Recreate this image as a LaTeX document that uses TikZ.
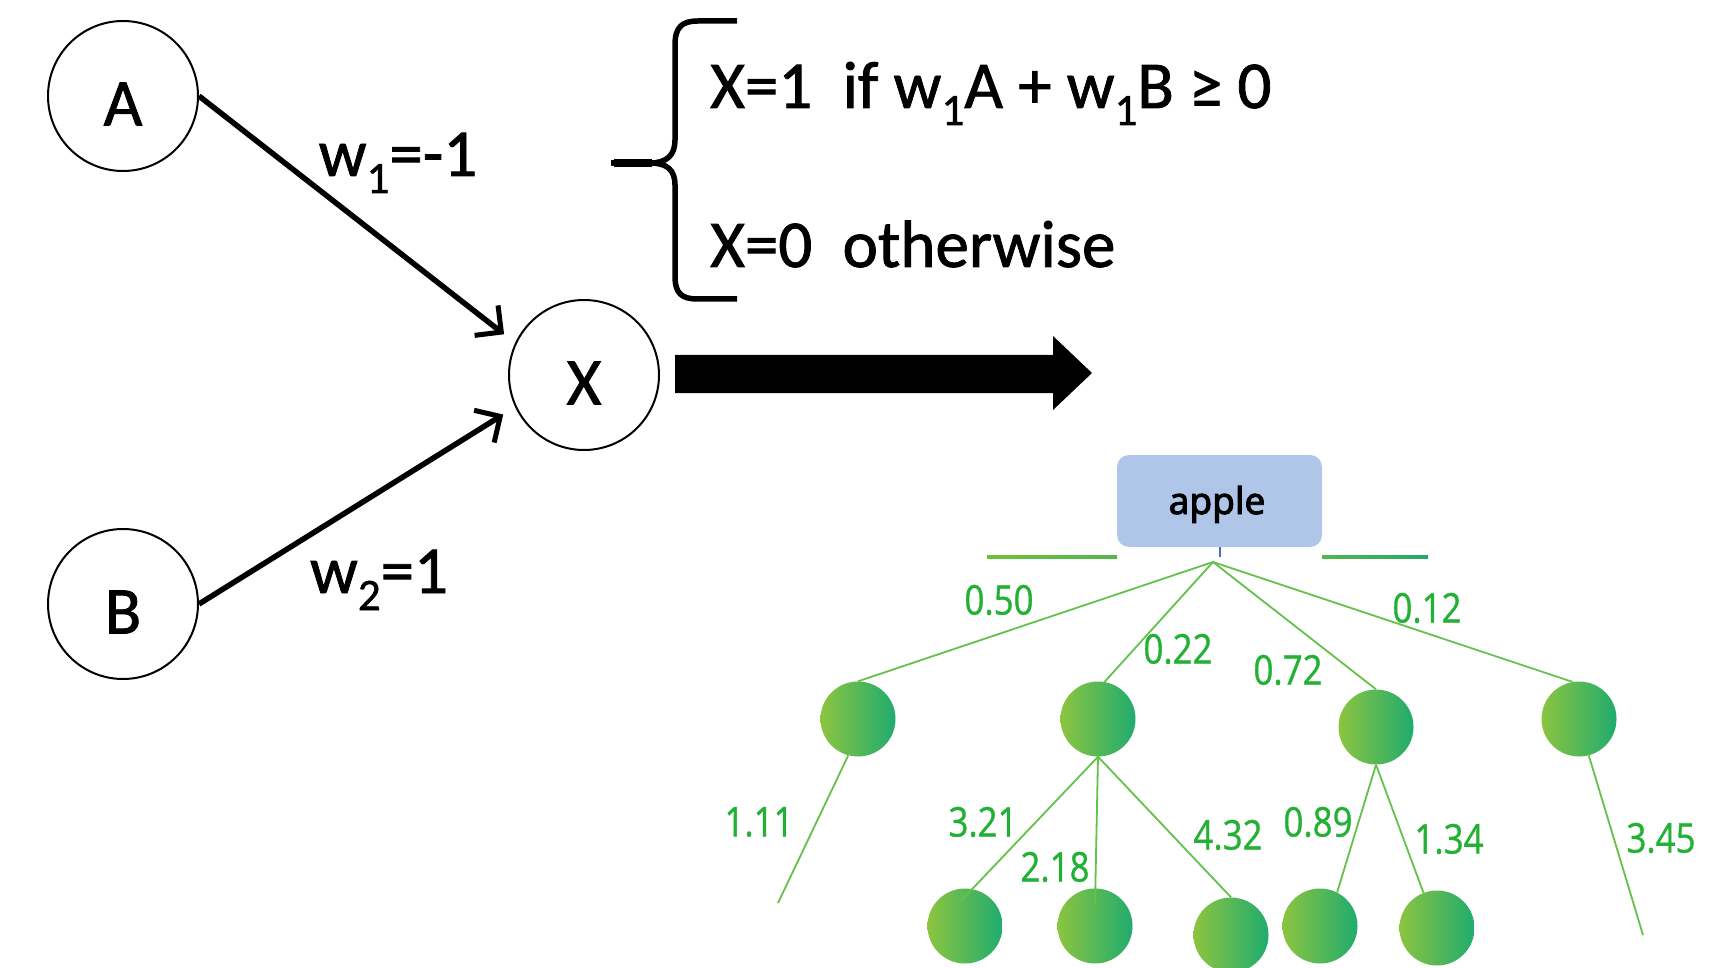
\documentclass[tikz,border=0pt]{standalone}
\usepackage{fontspec}
\setmainfont[FakeBold=1.2]{Carlito}
\newfontfamily\numfont[FakeStretch=0.85,FakeBold=0.8]{Open Sans}
\newfontfamily\boxfont[FakeBold=2.5]{Noto Sans}
\usetikzlibrary{arrows.meta,calc}

\definecolor{leafL}{RGB}{140,196,64}
\definecolor{leafR}{RGB}{32,172,110}
\definecolor{wgt}{RGB}{34,177,52}
\definecolor{edgegreen}{RGB}{100,193,74}
\definecolor{boxblue}{RGB}{176,198,232}
\definecolor{stemblue}{RGB}{70,110,200}
\definecolor{barL}{RGB}{112,192,56}
\definecolor{barM}{RGB}{80,184,78}
\definecolor{barR}{RGB}{36,168,104}

% lowered small index, as in w_1
\newcommand{\lowidx}[1]{\raisebox{-17pt}{\fontsize{45}{45}\selectfont #1}}

\begin{document}
\begin{tikzpicture}[x=1pt,y=-1pt,
  neuron/.style={circle, draw=black, line width=2pt, fill=white,
                 minimum size=150pt, inner sep=0pt},
  bigtext/.style={inner sep=0pt, font=\fontsize{67}{67}\selectfont},
  synapse/.style={line width=5.5pt,
                  -{Straight Barb[length=19pt,width=38pt,line width=5pt]},
                  shorten >=14pt},
  leaf/.style={circle, minimum size=75pt, inner sep=0pt,
               left color=leafL, right color=leafR, draw=none},
  branch/.style={draw=edgegreen, line width=1.8pt},
  weight/.style={inner sep=0pt, text=wgt,
                 font=\numfont\fontsize{41}{41}\selectfont},
]
\useasboundingbox[fill=white] (0,0) rectangle (1722,968);

% ---------- perceptron ----------
\node[neuron] (A) at (123,96) {};
\node[neuron] (B) at (123,604) {};
\node[neuron] (X) at (584,375) {};
\node[bigtext] (Atxt) at ($(A)+(0,8)$) {A};
\node[bigtext] (Btxt) at ($(B)+(0,8)$) {B};
\node[bigtext] (Xtxt) at ($(X)+(0,8)$) {X};

\draw[synapse] (A.east) -- (X.155);
\draw[synapse] (B.east) -- (X.205);

\node[bigtext, anchor=base] (w1) at (398,176) {w\lowidx{1}=-1};
\node[bigtext, anchor=base] (w2) at (379,593) {w\lowidx{2}=1};

% ---------- rule with brace ----------
\draw[line width=5.5pt] (737,21) -- (698,21)
  .. controls (682,21) and (675,27) .. (675,45) -- (675,140)
  .. controls (675,155) and (667,163) .. (650,163) -- (611,163);
\draw[line width=5.5pt] (611,163) -- (650,163)
  .. controls (667,163) and (675,170) .. (675,185) -- (675,276)
  .. controls (675,294) and (682,299) .. (698,299) -- (737,299);
\draw[line width=8pt] (614,163) -- (652,163);

\node[bigtext, anchor=base west] (rule1) at (710,108)
  {X=1\ \ if w\lowidx{1}A + w\lowidx{1}B ≥ 0};
\node[bigtext, anchor=base west] (rule2) at (710,267)
  {X=0\ \ otherwise};

% ---------- block arrow ----------
\fill[black] (675,355) -- (1053,355) -- (1053,336) -- (1092,373)
  -- (1053,410) -- (1053,393) -- (675,393) -- cycle;

% ---------- tree ----------
\node[rounded corners=12pt, fill=boxblue, minimum width=205pt,
      minimum height=92pt, inner sep=0pt] (apple) at (1219.5,501) {};
\node[inner sep=0pt, anchor=base,
      font=\boxfont\fontsize{37}{37}\selectfont] (appletxt) at (1217,514) {apple};
\coordinate (root) at (1213,562);

\shade[left color=barL, right color=barM] (987,555.6) rectangle (1117,558.6);
\shade[left color=barM, right color=barR] (1322,555.6) rectangle (1428,558.6);
\draw[stemblue, line width=2pt] (apple.south) -- ++(0,10);

\node[leaf] (n1) at (858,719) {};
\node[leaf] (n2) at (1098,719) {};
\node[leaf] (n3) at (1376,727) {};
\node[leaf] (n4) at (1579,719) {};

\node[leaf] (d1) at (965,926) {};
\node[leaf] (d2) at (1095,926) {};
\node[leaf] (d3) at (1231,935) {};
\node[leaf] (e1) at (1320,926) {};
\node[leaf] (e2) at (1437,928) {};

\coordinate (cut1) at (778,903);
\coordinate (cut4) at (1643,935);

\draw[branch] (root) -- (n1.north);
\draw[branch] (root) -- (n2.80);
\draw[branch] (root) -- (n3.north);
\draw[branch] (root) -- (n4.100);

\draw[branch] (n1.255) -- (cut1);
\draw[branch] (n2.south) -- ($(d1)!0.6!(d1.110)$);
\draw[branch] (n2.south) -- ($(d2)!0.55!(d2.north)$);
\draw[branch] (n2.south) -- (d3.north);
\draw[branch] (n3.south) -- (e1.63);
\draw[branch] (n3.south) -- (e2.111);
\draw[branch] (n4.285) -- (cut4);

\node[weight] (l050) at (999,600) {0.50};
\node[weight] (l022) at (1178,649) {0.22};
\node[weight] (l072) at (1288,670) {0.72};
\node[weight] (l012) at (1427,608) {0.12};
\node[weight] (l111) at (759,822) {1.11};
\node[weight] (l321) at (983,822) {3.21};
\node[weight] (l218) at (1055,867) {2.18};
\node[weight] (l432) at (1228,835) {4.32};
\node[weight] (l089) at (1318,822) {0.89};
\node[weight] (l134) at (1449,839) {1.34};
\node[weight] (l345) at (1661,838) {3.45};
\end{tikzpicture}
\end{document}
